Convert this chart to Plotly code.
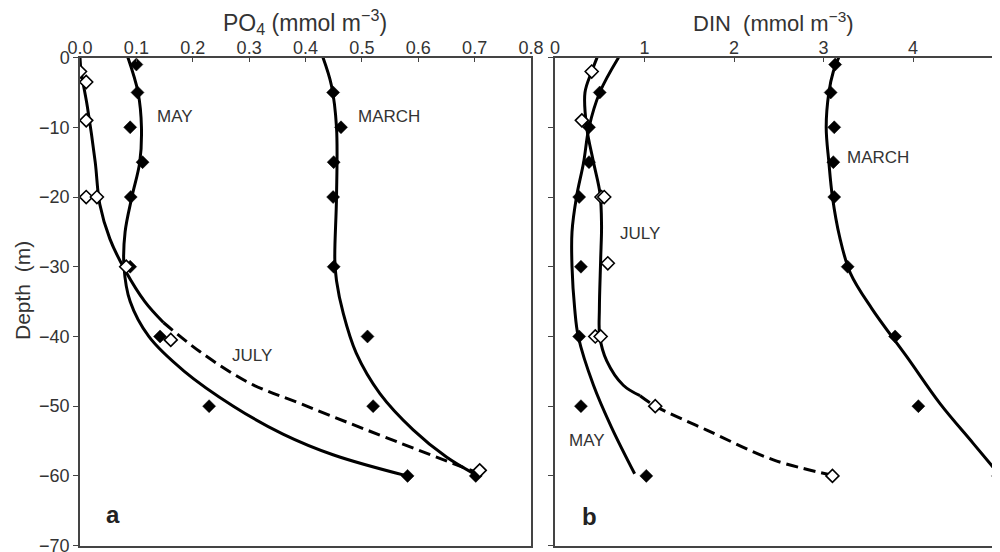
import plotly.graph_objects as go

# ---------------- Panel a : PO4 ----------------
# measured points
may_a_depth = [1, 5, 10, 15, 20, 30, 40, 50, 60]
may_a_po4 = [0.100, 0.102, 0.089, 0.111, 0.090, 0.089, 0.142, 0.229, 0.581]
july_a_depth = [2, 3.5, 9, 20, 20, 30, 40.5, 59.2]
july_a_po4 = [0.000, 0.011, 0.011, 0.011, 0.030, 0.082, 0.161, 0.709]
march_a_depth = [5, 10, 15, 20, 30, 40, 50, 60]
march_a_po4 = [0.449, 0.463, 0.450, 0.449, 0.450, 0.510, 0.520, 0.702]

# fitted curves
may_a_fit_depth = [0, 5, 10, 15, 20, 25, 30, 35, 40, 45, 50, 54, 57, 60]
may_a_fit_po4 = [0.085, 0.103, 0.109, 0.106, 0.092, 0.080, 0.078, 0.089, 0.122, 0.185, 0.272, 0.36, 0.45, 0.58]
july_a_fit_depth = [0, 2, 7, 15, 21, 26, 30.5, 35, 38]
july_a_fit_po4 = [0.000, 0.002, 0.013, 0.027, 0.035, 0.053, 0.080, 0.115, 0.148]
july_a_dash_depth = [38, 42.2, 46.7, 49.6, 53.4, 59.4]
july_a_dash_po4 = [0.148, 0.213, 0.301, 0.39, 0.508, 0.70]
march_a_fit_depth = [0, 4, 10, 20, 29, 32, 36.7, 42.4, 48.2, 53.4, 57.3, 59.6]
march_a_fit_po4 = [0.431, 0.446, 0.455, 0.455, 0.452, 0.455, 0.467, 0.49, 0.532, 0.591, 0.65, 0.697]

# ---------------- Panel b : DIN ----------------
may_b_depth = [5, 10, 15, 20, 30, 40, 50, 60]
may_b_din = [0.50, 0.38, 0.38, 0.27, 0.29, 0.27, 0.29, 1.02]
july_b_depth = [2, 9, 20, 20, 29.5, 40, 40, 50, 60]
july_b_din = [0.41, 0.30, 0.52, 0.55, 0.59, 0.45, 0.51, 1.12, 3.10]
march_b_depth = [1, 5, 10, 15, 20, 30, 40, 50, 60]
march_b_din = [3.13, 3.08, 3.12, 3.11, 3.12, 3.27, 3.80, 4.06, 4.95]

may_b_fit_depth = [0, 5, 10, 15, 20, 25, 30, 36, 40, 47, 53, 59.7]
may_b_fit_din = [0.71, 0.50, 0.38, 0.32, 0.24, 0.19, 0.19, 0.22, 0.26, 0.43, 0.63, 0.89]
july_b_fit_depth = [0, 2, 5, 10, 15, 19.5, 24, 29, 36, 40, 43.5, 47, 48.5]
july_b_fit_din = [0.47, 0.41, 0.335, 0.354, 0.43, 0.503, 0.52, 0.51, 0.496, 0.50, 0.578, 0.763, 0.95]
july_b_dash_depth = [48.5, 50.1, 53.4, 57.7, 59.9]
july_b_dash_din = [0.95, 1.136, 1.69, 2.44, 3.10]
march_b_fit_depth = [0, 2, 5, 10, 15, 20, 25.7, 30.9, 36, 42.9, 49.6, 55.3, 59.6]
march_b_fit_din = [3.17, 3.11, 3.06, 3.03, 3.06, 3.10, 3.18, 3.30, 3.54, 3.93, 4.30, 4.67, 4.95]

po4_ticks = [0.0, 0.1, 0.2, 0.3, 0.4, 0.5, 0.6, 0.7, 0.8]
din_ticks = [0, 1, 2, 3, 4, 5]
depth_ticks = [-70, -60, -50, -40, -30, -20, -10, 0]

FONT = "Liberation Sans, Arial, Helvetica, sans-serif"
TXT = "#333333"
AX = "#444444"
W, H = 1000, 552
OFF = 8  # page body margin

fig = go.Figure()


def neg(vals):
    return [-v for v in vals]


def curve(x, d, xa, ya, dash="solid"):
    fig.add_trace(go.Scatter(x=x, y=neg(d), xaxis=xa, yaxis=ya, mode="lines",
                             line=dict(color="black", width=3, shape="spline", dash=dash),
                             hoverinfo="skip"))


def pts(x, d, xa, ya, open_=False):
    fig.add_trace(go.Scatter(x=x, y=neg(d), xaxis=xa, yaxis=ya, mode="markers",
                             marker=dict(symbol="diamond", size=10,
                                         color="white" if open_ else "black",
                                         line=dict(color="black", width=1.6 if open_ else 0.5)),
                             hoverinfo="skip"))


dash_pat = "12px,6px"
# panel a
curve(may_a_fit_po4, may_a_fit_depth, "x", "y")
curve(july_a_fit_po4, july_a_fit_depth, "x", "y")
curve(july_a_dash_po4, july_a_dash_depth, "x", "y", dash_pat)
curve(march_a_fit_po4, march_a_fit_depth, "x", "y")
pts(may_a_po4, may_a_depth, "x", "y")
pts(march_a_po4, march_a_depth, "x", "y")
pts(july_a_po4, july_a_depth, "x", "y", True)
# panel b
curve(may_b_fit_din, may_b_fit_depth, "x2", "y2")
curve(july_b_fit_din, july_b_fit_depth, "x2", "y2")
curve(july_b_dash_din, july_b_dash_depth, "x2", "y2", dash_pat)
curve(march_b_fit_din, march_b_fit_depth, "x2", "y2")
pts(may_b_din, may_b_depth, "x2", "y2")
pts(march_b_din, march_b_depth, "x2", "y2")
pts(july_b_din, july_b_depth, "x2", "y2", True)


def px(x):
    return (x - OFF) / W


def py(y):
    return (H - (y - OFF)) / H


ydom = [py(545.6), py(57.6)]
common_x = dict(side="top", showline=True, linecolor=AX, linewidth=1.5, mirror=True,
                ticks="inside", ticklen=5, tickcolor=AX, tickwidth=1.2,
                showgrid=False, zeroline=False, automargin=False, ticklabelstandoff=-5,
                tickfont=dict(family=FONT, size=18, color=TXT))
common_y = dict(range=[-70, 0], tickvals=depth_ticks, showline=True, linecolor=AX,
                linewidth=1.5, ticks="outside", ticklen=5, tickcolor=AX, tickwidth=1.2,
                showgrid=False, zeroline=False, domain=ydom, automargin=False,
                tickfont=dict(family=FONT, size=18, color=TXT))

fig.update_layout(
    width=W, height=H,
    margin=dict(l=0, r=0, t=0, b=0, pad=0, autoexpand=False),
    paper_bgcolor="white", plot_bgcolor="white",
    showlegend=False,
    xaxis=dict(common_x, domain=[px(80), px(531)], range=[0, 0.8], tickvals=po4_ticks,
               tickformat=".1f", anchor="y"),
    yaxis=dict(common_y, anchor="x", mirror=True),
    xaxis2=dict(common_x, domain=[px(555), px(1002.5)], range=[0, 5], tickvals=din_ticks,
                anchor="y2"),
    yaxis2=dict(common_y, anchor="x2", showticklabels=False, mirror=False),
)

lab = dict(family=FONT, size=17, color=TXT)
ann = [
    dict(x=0.168, y=-8.5, xref="x", yref="y", text="MAY", font=lab),
    dict(x=0.548, y=-8.5, xref="x", yref="y", text="MARCH", font=lab),
    dict(x=0.305, y=-42.7, xref="x", yref="y", text="JULY", font=lab),
    dict(x=0.0585, y=-65.5, xref="x", yref="y", text="<b>a</b>",
         font=dict(family=FONT, size=24, color="#222222")),
    dict(x=3.61, y=-14.4, xref="x2", yref="y2", text="MARCH", font=lab),
    dict(x=0.95, y=-25.3, xref="x2", yref="y2", text="JULY", font=lab),
    dict(x=0.36, y=-54.9, xref="x2", yref="y2", text="MAY", font=lab),
    dict(x=0.38, y=-65.8, xref="x2", yref="y2", text="<b>b</b>",
         font=dict(family=FONT, size=24, color="#222222")),
    dict(x=px(305), y=py(22), xref="paper", yref="paper",
         text="PO<sub>4</sub> (mmol m<sup>−3</sup>)",
         font=dict(family=FONT, size=23, color=TXT)),
    dict(x=px(773), y=py(22), xref="paper", yref="paper",
         text="DIN  (mmol m<sup>−3</sup>)",
         font=dict(family=FONT, size=22, color=TXT)),
    dict(x=px(23), y=py(291), xref="paper", yref="paper",
         text="Depth  (m)", textangle=-90,
         font=dict(family=FONT, size=21, color=TXT)),
]
for a in ann:
    a.update(showarrow=False, xanchor="center", yanchor="middle")
fig.update_layout(annotations=ann)

fig.write_html("out.html")
